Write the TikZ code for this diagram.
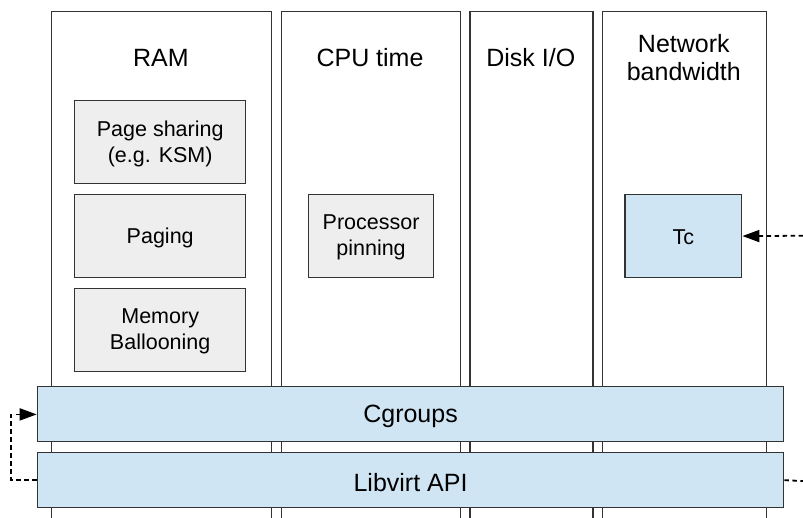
\documentclass[tikz,border=0pt]{standalone}
\usepackage{fontspec}
\setmainfont{Liberation Sans}
\usetikzlibrary{arrows.meta}

\definecolor{edge}{HTML}{333333}
\definecolor{grayfill}{HTML}{EEEEEE}
\definecolor{bluefill}{HTML}{D0E5F3}

\tikzset{
  column/.style={draw=edge, line width=1.2pt, fill=white, anchor=north west, inner sep=0pt},
  header/.style={font=\fontsize{25}{27.5}\selectfont, align=center, text=black},
  mechbox/.style={draw=edge, line width=1.4pt, fill=grayfill, anchor=north west, inner sep=0pt},
  mechtext/.style={font=\fontsize{21.5}{26}\selectfont, align=center, text=black},
  bar/.style={draw=edge, line width=1.4pt, fill=bluefill, anchor=north west, inner sep=0pt},
  bartext/.style={font=\fontsize{25}{27.5}\selectfont, text=black},
  link/.style={line width=1.8pt, dash pattern=on 4.5pt off 3.5pt, draw=black},
  tip/.style={-{Triangle[length=17pt,width=12pt]}}
}

\begin{document}
\begin{tikzpicture}[x=1pt,y=-1pt]
  \useasboundingbox (0,0) rectangle (803,517);
  \clip (0,0) rectangle (803,517);

  % resource columns (open at the bottom)
  \node[column, minimum width=220.3pt, minimum height=540pt] (ram)  at (50.7,10.7)  {};
  \node[column, minimum width=179pt,   minimum height=540pt] (cpu)  at (280.5,10.7) {};
  \node[column, minimum width=123pt,   minimum height=540pt] (disk) at (469.3,10.7) {};
  \node[column, minimum width=164.6pt, minimum height=540pt] (net)  at (601.5,10.7) {};

  % column headers
  \node[header] (ramlabel)  at (160.85,58) {RAM};
  \node[header] (cpulabel)  at (370,58)    {CPU time};
  \node[header] (disklabel) at (530.8,58)  {Disk I/O};
  \node[header] (netlabel)  at (683.8,57.5)  {Network\\bandwidth};

  % mechanisms inside the columns
  \node[mechbox, minimum width=171pt, minimum height=83pt] (ksm)     at (74,100)    {};
  \node[mechtext] (ksmtext) at ([yshift=-1.5pt]ksm.center) {Page sharing\\(e.g. KSM)};
  \node[mechbox, minimum width=171pt, minimum height=83pt] (paging)  at (74,194)    {};
  \node[mechtext] (pagingtext) at ([yshift=-1.5pt]paging.center) {Paging};
  \node[mechbox, minimum width=171pt, minimum height=83pt] (balloon) at (74,288)    {};
  \node[mechtext] (balloontext) at ([yshift=-1.5pt]balloon.center) {Memory\\Ballooning};
  \node[mechbox, minimum width=125.3pt, minimum height=83pt] (pin)   at (307.7,194) {};
  \node[mechtext] (pintext) at ([yshift=-1.5pt]pin.center) {Processor\\pinning};
  \node[mechbox, fill=bluefill, minimum width=116.7pt, minimum height=82.7pt] (tc) at (624.3,194) {};
  \node[mechtext] (tctext) at ([yshift=-1.5pt]tc.center) {Tc};

  % bottom layers
  \node[bar, minimum width=746.3pt, minimum height=55pt] (cgroups) at (36.7,385.7) {};
  \node[bartext] (cgroupstext) at ([yshift=-2pt]cgroups.center) {Cgroups};
  \node[bar, minimum width=746.3pt, minimum height=55pt] (libvirt) at (36.7,452)   {};
  \node[bartext] (libvirttext) at ([yshift=-2pt]libvirt.center) {Libvirt API};

  % connectors
  \coordinate (tcin)  at (803,235.7);
  \coordinate (libout) at (803,481);
  \draw[link] (libvirt.west) -- ++(-25.7,0) |- ([xshift=-14pt,yshift=-0.5pt]cgroups.west);
  \draw[link, tip, solid] ([xshift=-18pt,yshift=-0.5pt]cgroups.west) -- ([yshift=-0.5pt]cgroups.west);
  \draw[link] (libvirt.east) -- (libout);
  \draw[link] (tcin) -- ([xshift=16pt]tc.east);
  \draw[link, tip, solid] ([xshift=18pt]tc.east) -- (tc.east);
\end{tikzpicture}
\end{document}
